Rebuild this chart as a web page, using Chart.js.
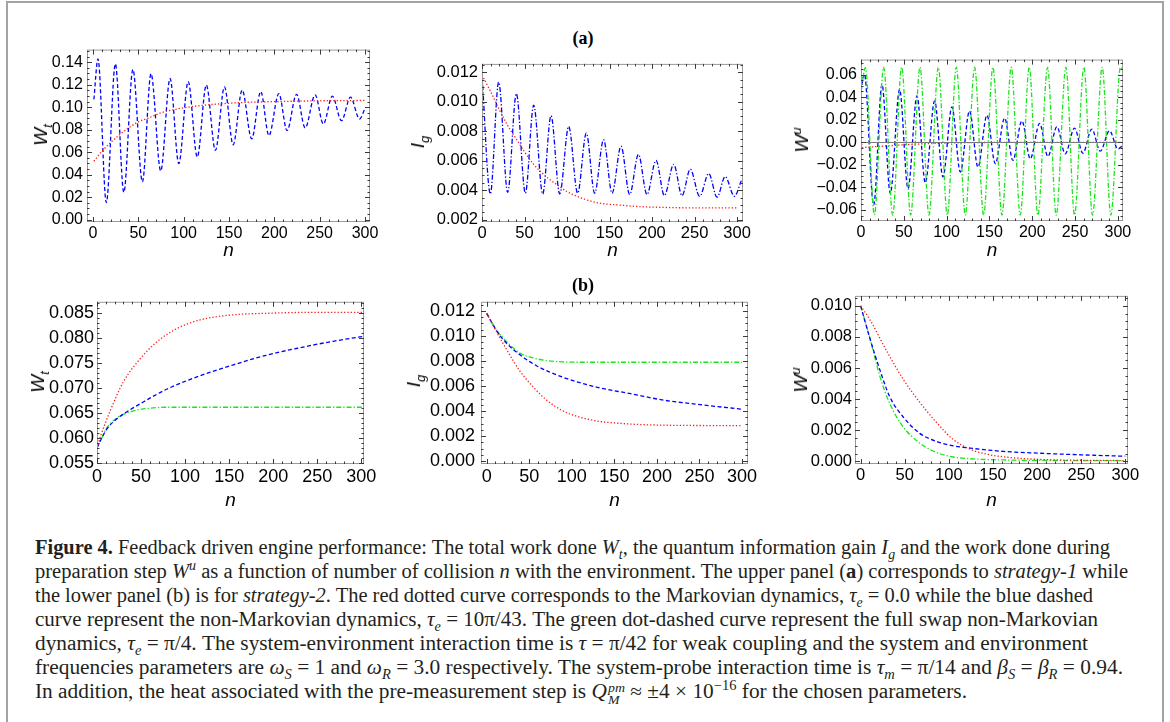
<!DOCTYPE html>
<html>
<head>
<meta charset="utf-8">
<script src="https://cdn.jsdelivr.net/npm/chart.js@4.4.1/dist/chart.umd.min.js"></script>
<style>
  body { margin: 0; background: #fff; }
  #fig { position: relative; width: 1170px; height: 722px; overflow: hidden; background: #fff; }
  #border { position: absolute; left: 6px; top: 1px; width: 1154px; height: 800px; border: 2px solid #a3a3a3; }
  canvas { position: absolute; }
  .ylab, .xlab { position: absolute; font: italic 19px "Liberation Sans", Arial, sans-serif; color: #000; white-space: nowrap; }
  .ylab { transform: translate(-50%, -50%) rotate(-90deg); }
  .xlab { transform: translate(-50%, -50%); }
  .ylab sub, .ylab sup { font-size: 68%; line-height: 0; }
  .ptitle { position: absolute; transform: translate(-50%, -50%); font: bold 18px "Liberation Serif", serif; }
  .cap { position: absolute; left: 35px; height: 24px; line-height: 24px; font: 20px "Liberation Serif", "Times New Roman", serif; color: #231f20; white-space: nowrap; transform-origin: 0 50%; }
  .cap sub, .cap sup { font-size: 68%; line-height: 0; }
  .ss { display: inline-block; vertical-align: -0.45em; line-height: 0.95; font-size: 0.65em; font-style: italic; margin-left: 1px; }
  .ss span { display: block; }
</style>
</head>
<body>
<div id="fig"><div id="border"></div></div>
<script>
// ---- ticks ----
const nTicks = [0, 50, 100, 150, 200, 250, 300];
const yTicksWtA = [0, 0.02, 0.04, 0.06, 0.08, 0.10, 0.12, 0.14];
const yTicksIgA = [0.002, 0.004, 0.006, 0.008, 0.010, 0.012];
const yTicksWuA = [-0.06, -0.04, -0.02, 0, 0.02, 0.04, 0.06];
const yTicksWtB = [0.055, 0.060, 0.065, 0.070, 0.075, 0.080, 0.085];
const yTicksIgB = [0, 0.002, 0.004, 0.006, 0.008, 0.010, 0.012];
const yTicksWuB = [0, 0.002, 0.004, 0.006, 0.008, 0.010];

// ---- (a) strategy-1 ----
const nWtA_markov = [1, 10, 20, 30, 40, 50, 60, 75, 100, 125, 150, 175, 200, 250, 300];
const wtA_markov = [0.052, 0.061, 0.069, 0.076, 0.082, 0.087, 0.090, 0.095, 0.0995, 0.102, 0.1035, 0.1045, 0.105, 0.1057, 0.106];
const nWtA_nonMarkov = [1, 5.5, 14.7, 24.7, 34, 44, 54.5, 64, 74.7, 85, 94.6, 105, 115, 125, 135, 145, 154.6, 164.5, 175, 185, 194, 205, 214, 224.5, 234, 245, 254, 264, 274, 284, 294, 300];
const wtA_nonMarkov = [0.107, 0.143, 0.0153, 0.1385, 0.0244, 0.1335, 0.0338, 0.1297, 0.0434, 0.1256, 0.0499, 0.1227, 0.0558, 0.1197, 0.0616, 0.118, 0.0666, 0.1153, 0.0719, 0.1139, 0.0748, 0.1121, 0.0792, 0.1115, 0.0816, 0.111, 0.0851, 0.1098, 0.088, 0.1089, 0.0895, 0.099];

const nIgA_markov = [0, 10, 20, 30, 40, 50, 60, 70, 80, 90, 100, 120, 140, 160, 180, 200, 250, 300];
const igA_markov = [0.0118, 0.0107, 0.0095, 0.0084, 0.0075, 0.0066, 0.0058, 0.0052, 0.0047, 0.0043, 0.0039, 0.0034, 0.0031, 0.0030, 0.0029, 0.00285, 0.0028, 0.0028];
const nIgA_nonMarkov = [0, 9.8, 19.6, 30.2, 40.4, 51, 60.8, 71.4, 81.2, 91.4, 102, 112.5, 122.7, 132.5, 143, 153, 163.5, 173.7, 184, 194, 204.7, 214.5, 225.5, 235.3, 245, 256, 266.7, 276.5, 286, 296.9, 305];
const igA_nonMarkov = [0.0118, 0.00374, 0.01133, 0.00385, 0.01055, 0.00379, 0.00977, 0.00374, 0.00905, 0.00374, 0.00832, 0.00379, 0.00787, 0.00379, 0.00742, 0.00379, 0.00698, 0.0037, 0.00642, 0.0037, 0.00602, 0.00363, 0.00575, 0.00363, 0.00542, 0.00358, 0.00513, 0.00352, 0.00492, 0.00358, 0.00463];

const nWuA_markov = [0, 1.5, 20, 40, 60, 80, 100, 130, 160, 200, 306];
const wuA_markov = [0.0045, -0.0045, -0.0037, -0.0027, -0.0018, -0.0012, -0.0007, -0.0003, -0.0001, 0, 0];
const nWuA_nonMarkov = [0, 3.9, 14.8, 24.5, 34.2, 45.1, 54.9, 65.4, 75.1, 86, 95.7, 106.2, 116, 126.8, 136.6, 147.1, 156.8, 167.7, 177.4, 187.9, 197.7, 208.6, 218.3, 228.8, 238.5, 249.4, 259.1, 269.6, 279.4, 290.3, 300, 305.5];
const wuA_nonMarkov = [0.045, 0.0605, -0.0556, 0.0512, -0.0454, 0.0468, -0.041, 0.041, -0.036, 0.0366, -0.0307, 0.0313, -0.0263, 0.0278, -0.022, 0.024, -0.019, 0.0214, -0.0161, 0.019, -0.0146, 0.0167, -0.0126, 0.0138, -0.0102, 0.0126, -0.0097, 0.0117, -0.0079, 0.0102, -0.0059, -0.003];
const nWuA_swap = [0, 5.1, 15.6, 26.5, 37, 47.5, 58, 68.9, 79.4, 90.3, 100.8, 111.3, 121.8, 132.7, 143.2, 154.1, 164.6, 175.5, 186, 196.5, 206.6, 217.9, 228, 239.3, 249.4, 260.3, 270.4, 281.7, 291.8, 303.1, 306];
const wuA_swap = [0.045, 0.066, -0.0642, 0.0664, -0.0645, 0.0665, -0.0644, 0.0665, -0.0645, 0.0664, -0.0645, 0.0665, -0.0644, 0.0665, -0.0645, 0.0664, -0.0645, 0.0665, -0.0644, 0.0665, -0.0645, 0.0664, -0.0645, 0.0665, -0.0644, 0.0665, -0.0645, 0.0664, -0.0645, 0.0665, 0.064];

// ---- (b) strategy-2 ----
const nWtB_markov = [0, 5, 15, 30, 49, 68, 87, 106, 125, 155, 192, 250, 303];
const wtB_markov = [0.058, 0.0608, 0.0654, 0.0712, 0.0758, 0.0792, 0.0815, 0.0830, 0.0839, 0.0846, 0.0849, 0.0851, 0.0851];
const nWtB_nonMarkov = [0, 5, 11, 22, 34, 53, 79, 117, 155, 192, 230, 268, 303];
const wtB_nonMarkov = [0.058, 0.0598, 0.0617, 0.0637, 0.0652, 0.0672, 0.0697, 0.0724, 0.0746, 0.0765, 0.078, 0.0793, 0.0803];
const nWtB_swap = [0, 5, 11, 23, 42, 60, 80, 120, 303];
const wtB_swap = [0.058, 0.0598, 0.0619, 0.064, 0.0654, 0.0659, 0.0661, 0.0661, 0.0661];

const nIgB_markov = [0, 7.8, 23.5, 39, 55, 70, 90, 110, 130, 150, 190, 300];
const igB_markov = [0.0118, 0.0108, 0.0089, 0.0072, 0.0059, 0.0049, 0.0040, 0.0035, 0.0032, 0.00305, 0.0029, 0.00283];
const nIgB_nonMarkov = [0, 11.8, 23.5, 39, 59, 90, 129, 169, 208, 247, 300];
const igB_nonMarkov = [0.0118, 0.0104, 0.0094, 0.0085, 0.0076, 0.00669, 0.00591, 0.00539, 0.00487, 0.00454, 0.00415];
const nIgB_swap = [0, 11.8, 23.5, 39, 55, 70.6, 90, 110, 200, 300];
const igB_swap = [0.0118, 0.01045, 0.00954, 0.00863, 0.00824, 0.00803, 0.00793, 0.0079, 0.0079, 0.0079];

const nWuB_markov = [0, 10.6, 29.5, 48, 67, 86, 105, 124, 143, 162, 200, 298];
const wuB_markov = [0.010, 0.0091, 0.0071, 0.0053, 0.0038, 0.0025, 0.0014, 0.00078, 0.00046, 0.00029, 0.00013, 0.00005];
const nWuB_nonMarkov = [0, 10, 22, 33, 48, 67, 86, 105, 124, 162, 200, 250, 300];
const wuB_nonMarkov = [0.010, 0.0080, 0.00585, 0.00415, 0.00287, 0.0018, 0.00128, 0.001, 0.00085, 0.00064, 0.00053, 0.00042, 0.00033];
const nWuB_swap = [0, 10.6, 22, 33, 48, 67, 86, 105, 124, 162, 298];
const wuB_swap = [0.010, 0.0079, 0.00543, 0.00372, 0.00223, 0.00117, 0.00057, 0.00028, 0.00017, 0.00009, 0.00004];

// ---- line styles ----
const redDot = { borderColor: "#ff1a1a", borderDash: [1.3, 2] };
const blueDash = { borderColor: "#0000ff", borderDash: [4, 2.5] };
const blueDotDash = { borderColor: "#0000ff", borderDash: [5, 2, 1.3, 2] };
const greenDotDash = { borderColor: "#19e619", borderDash: [5, 2, 1.3, 2] };

const series = (n, v, style) => Object.assign({
  data: n.map((x, i) => ({ x: x, y: v[i] })),
  borderWidth: 1.3,
  pointRadius: 0,
  fill: false,
  cubicInterpolationMode: "monotone",
}, style);

const fmt = (v, dec) => {
  const s = Math.abs(v) < 1e-12 ? (0).toFixed(dec) : v.toFixed(dec);
  return s.replace("-", "\u2212");
};

// frame round the plot, inward major/minor ticks on all four sides, zero line
const frameTicks = {
  id: "frameTicks",
  afterDatasetsDraw(chart, args, o) {
    const { ctx, chartArea: a, scales: { x, y } } = chart;
    const marks = (scale, sub) => {
      const vals = scale.ticks.map(t => t.value);
      const step = vals[1] - vals[0];
      const out = [];
      for (let i = -1; i <= vals.length; i++) {
        const v = vals[0] + i * step;
        for (let k = 0; k < sub; k++) {
          const u = v + k * step / sub;
          if (u >= scale.min - 1e-12 && u <= scale.max + 1e-12) out.push([u, k === 0]);
        }
      }
      return out;
    };
    ctx.save();
    if (o.zero) {
      const py = Math.round(y.getPixelForValue(0)) + 0.5;
      ctx.strokeStyle = "#7a7a7a";
      ctx.lineWidth = 1.2;
      ctx.beginPath();
      ctx.moveTo(a.left, py);
      ctx.lineTo(a.right, py);
      ctx.stroke();
    }
    ctx.lineWidth = 1;
    ctx.strokeStyle = "#9a9a9a";
    ctx.strokeRect(a.left + 0.5, a.top + 0.5, a.right - a.left - 1, a.bottom - a.top - 1);
    ctx.strokeStyle = "#3a3a3a";
    ctx.beginPath();
    for (const [u, major] of marks(x, 5)) {
      const px = Math.round(x.getPixelForValue(u)) + 0.5;
      const len = major ? 5 : 2.5;
      ctx.moveTo(px, a.bottom); ctx.lineTo(px, a.bottom - len);
      ctx.moveTo(px, a.top); ctx.lineTo(px, a.top + len);
    }
    for (const [u, major] of marks(y, o.ySub)) {
      const py = Math.round(y.getPixelForValue(u)) + 0.5;
      const len = major ? 5 : 2.5;
      ctx.moveTo(a.left, py); ctx.lineTo(a.left + len, py);
      ctx.moveTo(a.right, py); ctx.lineTo(a.right - len, py);
    }
    ctx.stroke();
    ctx.restore();
  },
};

// each sub-figure was pasted at its own scale, so tick font size differs a little
const panels = [
  { box: [87, 48, 370, 222], x: [-6.6, 305.5], y: [-0.002, 0.1512], yTicks: yTicksWtA, dec: 2, ySub: 4,
    fs: 16, pad: 4, ylab: "W<sub>t</sub>", ylx: 41, nly: 250,
    series: [series(nWtA_markov, wtA_markov, redDot), series(nWtA_nonMarkov, wtA_nonMarkov, blueDash)] },
  { box: [482, 62, 743, 222], x: [0, 307], y: [0.00184, 0.01256], yTicks: yTicksIgA, dec: 3, ySub: 4,
    fs: 16.5, pad: 4, ylab: "I<sub>g</sub>", ylx: 418, nly: 250,
    series: [series(nIgA_markov, igA_markov, redDot), series(nIgA_nonMarkov, igA_nonMarkov, blueDotDash)] },
  { box: [861, 58, 1123, 221], x: [0, 306], y: [-0.0697, 0.0732], yTicks: yTicksWuA, dec: 2, ySub: 4, zero: true,
    fs: 16, pad: 4, ylab: "W<sup>u</sup>", ylx: 802, nly: 250,
    series: [series(nWuA_swap, wuA_swap, greenDotDash), series(nWuA_nonMarkov, wuA_nonMarkov, blueDash), series(nWuA_markov, wuA_markov, redDot)] },
  { box: [97, 300, 364, 464], x: [0, 303], y: [0.05474, 0.0872], yTicks: yTicksWtB, dec: 3, ySub: 5,
    fs: 18, pad: 3, ylab: "W<sub>t</sub>", ylx: 38, nly: 500,
    series: [series(nWtB_markov, wtB_markov, redDot), series(nWtB_nonMarkov, wtB_nonMarkov, blueDash), series(nWtB_swap, wtB_swap, greenDotDash)] },
  { box: [481, 297, 748, 464], x: [-6.7, 307], y: [-0.00023, 0.01273], yTicks: yTicksIgB, dec: 3, ySub: 4,
    fs: 18, pad: 6, ylab: "I<sub>g</sub>", ylx: 414, nly: 500,
    series: [series(nIgB_markov, igB_markov, redDot), series(nIgB_nonMarkov, igB_nonMarkov, blueDash), series(nIgB_swap, igB_swap, greenDotDash)] },
  { box: [855, 295, 1128, 464], x: [-6.4, 303], y: [-0.00017, 0.01064], yTicks: yTicksWuB, dec: 3, ySub: 4,
    fs: 16.5, pad: 3, ylab: "W<sup>u</sup>", ylx: 801, nly: 500,
    series: [series(nWuB_markov, wuB_markov, redDot), series(nWuB_nonMarkov, wuB_nonMarkov, blueDash), series(nWuB_swap, wuB_swap, greenDotDash)] },
];

Chart.defaults.font.family = '"Liberation Sans", Arial, sans-serif';
Chart.defaults.font.size = 16;
Chart.defaults.color = "#000";

const fig = document.getElementById("fig");

const addText = (cls, html, x, y) => {
  const el = document.createElement("div");
  el.className = cls;
  el.innerHTML = html;
  el.style.left = x + "px";
  el.style.top = y + "px";
  fig.appendChild(el);
  return el;
};

panels.forEach(p => {
  const [L, T, R, B] = p.box;
  const cv = document.createElement("canvas");
  cv.width = R - L + 110;
  cv.height = B - T + 42;
  cv.style.left = (L - 80) + "px";
  cv.style.top = (T - 12) + "px";
  fig.appendChild(cv);

  new Chart(cv, {
    type: "line",
    data: { datasets: p.series },
    options: {
      responsive: false,
      animation: false,
      devicePixelRatio: 1,
      layout: { padding: { top: 12, right: 30, left: 0, bottom: 0 } },
      plugins: {
        legend: { display: false },
        tooltip: { enabled: false },
        frameTicks: { ySub: p.ySub, zero: !!p.zero },
      },
      scales: {
        x: {
          type: "linear", min: p.x[0], max: p.x[1],
          grid: { display: false, drawTicks: false },
          border: { display: false },
          afterBuildTicks: s => { s.ticks = nTicks.map(v => ({ value: v })); },
          afterFit: s => { s.height = 30; },
          ticks: { padding: 2, autoSkip: false, maxRotation: 0, minRotation: 0, font: { size: p.fs }, callback: v => String(v) },
        },
        y: {
          type: "linear", min: p.y[0], max: p.y[1],
          grid: { display: false, drawTicks: false },
          border: { display: false },
          afterBuildTicks: s => { s.ticks = p.yTicks.map(v => ({ value: v })); },
          afterFit: s => { s.width = 80; },
          ticks: { padding: p.pad, autoSkip: false, font: { size: p.fs }, callback: v => fmt(v, p.dec) },
        },
      },
    },
    plugins: [frameTicks],
  });

  addText("ylab", "<i>" + p.ylab + "</i>", p.ylx, (T + B) / 2);
  addText("xlab", "n", (L + R) / 2, p.nly);
});

addText("ptitle", "(a)", 583, 38);
addText("ptitle", "(b)", 583, 285);

// ---- caption ----
const captionLines = [
  '<b>Figure 4.</b> Feedback driven engine performance: The total work done <i>W<sub>t</sub></i>, the quantum information gain <i>I<sub>g</sub></i> and the work done during',
  'preparation step <i>W<sup>u</sup></i> as a function of number of collision <i>n</i> with the environment. The upper panel (<b>a</b>) corresponds to <i>strategy-1</i> while',
  'the lower panel (b) is for <i>strategy-2</i>. The red dotted curve corresponds to the Markovian dynamics, <i>τ<sub>e</sub></i> = 0.0 while the blue dashed',
  'curve represent the non-Markovian dynamics, <i>τ<sub>e</sub></i> = 10π/43. The green dot-dashed curve represent the full swap non-Markovian',
  'dynamics, <i>τ<sub>e</sub></i> = π/4. The system-environment interaction time is <i>τ</i> = π/42 for weak coupling and the system and environment',
  'frequencies parameters are <i>ω<sub>S</sub></i> = 1 and <i>ω<sub>R</sub></i> = 3.0 respectively. The system-probe interaction time is <i>τ<sub>m</sub></i> = π/14 and <i>β<sub>S</sub></i> = <i>β<sub>R</sub></i> = 0.94.',
  'In addition, the heat associated with the pre-measurement step is <i>Q</i><span class="ss"><span>pm</span><span>M</span></span> ≈ ±4 × 10<sup>−16</sup> for the chosen parameters.',
];
const captionRight = [1110, 1128, 1093, 1098, 1088, 1123, 967];
const captionTop = 536;

const capEls = captionLines.map((html, i) => addText("cap", html, 35, captionTop + i * 24));

const fitCaption = () => {
  capEls.forEach((el, i) => {
    el.style.transform = "none";
    const w = el.getBoundingClientRect().width;
    el.style.transform = "scaleX(" + ((captionRight[i] - 35) / w) + ")";
  });
};
fitCaption();
if (document.fonts && document.fonts.ready) document.fonts.ready.then(fitCaption);
</script>
</body>
</html>
